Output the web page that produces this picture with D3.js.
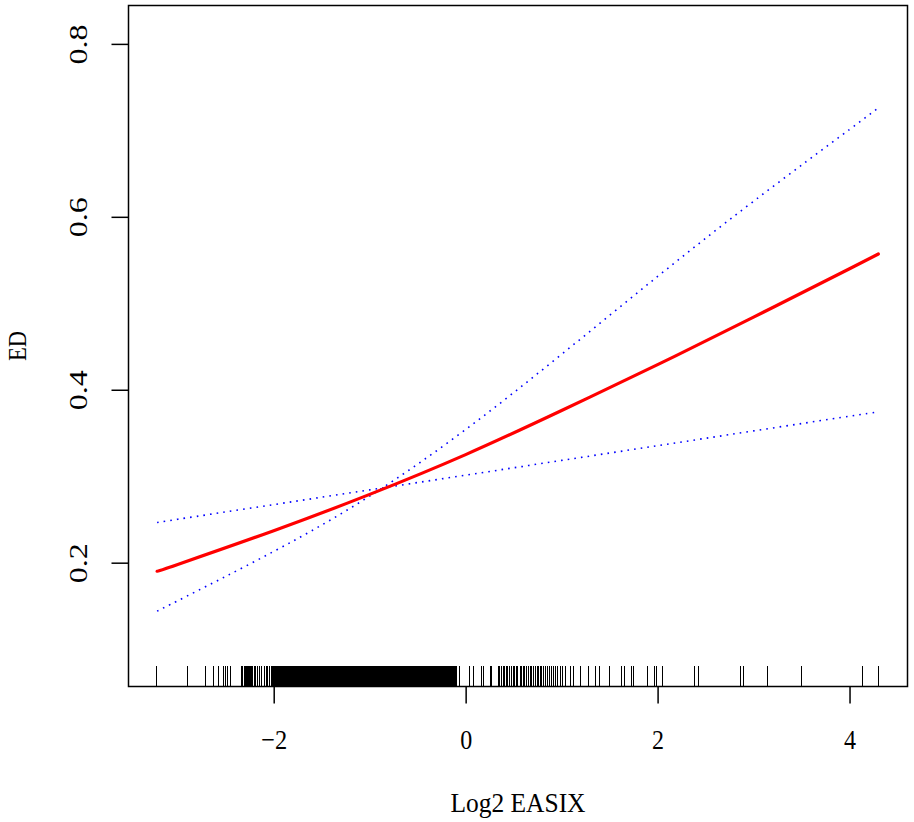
<!DOCTYPE html>
<html><head><meta charset="utf-8">
<script src="https://cdn.jsdelivr.net/npm/d3@7"></script>
<style>body{margin:0;background:#fff}svg{display:block}</style>
</head><body>
<svg id="c" width="914" height="822"></svg>
<script>
// ---- data ----
const xTicks = [-2, 0, 2, 4];
const xTickLabels = ["\u22122", "0", "2", "4"];
const yTicks = [0.2, 0.4, 0.6, 0.8];
const yTickLabels = ["0.2", "0.4", "0.6", "0.8"];
const xTitle = "Log2 EASIX";
const yTitle = "ED";
const curveX   = [-3.215, -3, -2, -1, 0, 1, 2, 3, 4, 4.30];
const fitY     = [0.190, 0.198, 0.237, 0.279, 0.325, 0.376, 0.429, 0.484, 0.540, 0.557];
const ciSteepY = [0.144, 0.156, 0.213, 0.277, 0.354, 0.441, 0.531, 0.618, 0.701, 0.726];
const ciFlatY  = [0.2465, 0.2502, 0.2672, 0.2842, 0.3012, 0.3183, 0.3353, 0.3524, 0.3694, 0.3745];
const rugX = [
-3.217,-2.894,-2.709,-2.626,-2.571,-2.522,-2.501,-2.477,-2.452,
-2.337,-2.323,-2.308,-2.30,-2.29,-2.285,-2.268,-2.26,-2.250,-2.24,-2.233,-2.22,-2.216,-2.198,-2.19,
-2.164,-2.15,-2.128,-2.10,-2.076,-2.06,-2.042,
-2.02,-2.01,-2.00,
-1.99,-1.98,-1.97,-1.96,-1.95,-1.94,-1.93,-1.92,-1.91,-1.90,
-1.89,-1.88,-1.87,-1.86,-1.85,-1.84,-1.83,-1.82,-1.81,-1.80,
-1.79,-1.78,-1.77,-1.76,-1.75,-1.74,-1.73,-1.72,-1.71,-1.70,
-1.69,-1.68,-1.67,-1.66,-1.65,-1.64,-1.63,-1.62,-1.61,-1.60,
-1.59,-1.58,-1.57,-1.56,-1.55,-1.54,-1.53,-1.52,-1.51,-1.50,
-1.49,-1.48,-1.47,-1.46,-1.45,-1.44,-1.43,-1.42,-1.41,-1.40,
-1.39,-1.38,-1.37,-1.36,-1.35,-1.34,-1.33,-1.32,-1.31,-1.30,
-1.29,-1.28,-1.27,-1.26,-1.25,-1.24,-1.23,-1.22,-1.21,-1.20,
-1.19,-1.18,-1.17,-1.16,-1.15,-1.14,-1.13,-1.12,-1.11,-1.10,
-1.09,-1.08,-1.07,-1.06,-1.05,-1.04,-1.03,-1.02,-1.01,-1.00,
-0.99,-0.98,-0.97,-0.96,-0.95,-0.94,-0.93,-0.92,-0.91,-0.90,
-0.89,-0.88,-0.87,-0.86,-0.85,-0.84,-0.83,-0.82,-0.81,-0.80,
-0.79,-0.78,-0.77,-0.76,-0.75,-0.74,-0.73,-0.72,-0.71,-0.70,
-0.69,-0.68,-0.67,-0.66,-0.65,-0.64,-0.63,-0.62,-0.61,-0.60,
-0.59,-0.58,-0.57,-0.56,-0.55,-0.54,-0.53,-0.52,-0.51,-0.50,
-0.49,-0.48,-0.47,-0.46,-0.45,-0.44,-0.43,-0.42,-0.41,-0.40,
-0.39,-0.38,-0.37,-0.36,-0.35,-0.34,-0.33,-0.32,-0.31,-0.30,
-0.29,-0.28,-0.27,-0.26,-0.25,-0.24,-0.23,-0.22,-0.21,-0.20,
-0.19,-0.18,-0.17,-0.16,-0.15,-0.14,-0.13,-0.12,-0.11,
-0.094,-0.059,0.045,0.079,0.170,0.191,0.254,0.274,0.340,0.355,0.376,0.39,0.410,0.425,0.44,
0.462,0.475,0.497,0.51,0.532,0.545,0.567,0.58,0.601,0.615,0.636,0.65,0.671,0.685,0.705,
0.723,0.73,0.744,0.76,0.775,0.79,0.806,0.827,0.848,0.869,0.890,0.911,0.932,0.952,
0.984,1.005,1.036,1.088,1.123,1.193,1.276,1.349,1.394,1.498,1.628,1.652,1.725,1.749,
1.899,1.965,1.993,2.055,2.385,2.427,2.869,2.896,3.147,3.498,4.138,4.305
];

// ---- layout ----
const box = {left: 128.5, right: 907.5, top: 5.5, bottom: 686.5};
const FONT = "'Liberation Serif', 'DejaVu Serif', serif";

const svg = d3.select("#c");
const x = d3.scaleLinear().domain([-3.513, 4.604]).range([box.left, box.right]);
const y = d3.scaleLinear().domain([0.0568, 0.8444]).range([box.bottom, box.top]);

// rug
svg.append("g").attr("shape-rendering", "crispEdges")
  .selectAll("line").data(rugX).join("line")
  .attr("x1", d => x(d)).attr("x2", d => x(d))
  .attr("y1", box.bottom).attr("y2", box.bottom - 21)
  .attr("stroke", "#000").attr("stroke-width", 1);

// curves
const line = d3.line().x((d, i) => x(curveX[i])).y(d => y(d)).curve(d3.curveNatural);
[ciSteepY, ciFlatY].forEach(s => {
  svg.append("path").attr("d", line(s)).attr("fill", "none")
    .attr("stroke", "#0000ff").attr("stroke-width", 1.6).attr("stroke-dasharray", "1.6,5.1");
});
svg.append("path").attr("d", line(fitY)).attr("fill", "none")
  .attr("stroke", "#ff0000").attr("stroke-width", 3.2).attr("stroke-linecap", "round");

// box
svg.append("rect").attr("x", box.left).attr("y", box.top)
  .attr("width", box.right - box.left).attr("height", box.bottom - box.top)
  .attr("fill", "none").attr("stroke", "#000").attr("stroke-width", 1.5);

// x axis
const xLabelW = [26, 12, 12, 12];
const gx = svg.append("g").attr("transform", `translate(0,${box.bottom})`)
  .call(d3.axisBottom(x).tickValues(xTicks).tickSize(17).tickFormat((d, i) => xTickLabels[i]));
gx.select(".domain").remove();
gx.selectAll(".tick line").attr("stroke", "#000").attr("stroke-width", 1.5);
gx.selectAll(".tick text").attr("y", 62).attr("dy", 0)
  .attr("font-family", FONT).attr("font-size", 28).attr("fill", "#000")
  .attr("textLength", (d, i) => xLabelW[i]).attr("lengthAdjust", "spacingAndGlyphs");

// y axis
const gy = svg.append("g").attr("transform", `translate(${box.left},0)`)
  .call(d3.axisLeft(y).tickValues(yTicks).tickSize(17).tickFormat((d, i) => yTickLabels[i]));
gy.select(".domain").remove();
gy.selectAll(".tick line").attr("stroke", "#000").attr("stroke-width", 1.5);
gy.selectAll(".tick text")
  .attr("transform", "rotate(-90)").attr("x", 0).attr("y", -42).attr("dy", 0)
  .attr("text-anchor", "middle")
  .attr("font-family", FONT).attr("font-size", 26).attr("fill", "#000")
  .attr("textLength", 40).attr("lengthAdjust", "spacingAndGlyphs");

// titles
svg.append("text").attr("x", (box.left + box.right) / 2).attr("y", 812)
  .attr("text-anchor", "middle").attr("font-family", FONT).attr("font-size", 27)
  .attr("textLength", 135).attr("lengthAdjust", "spacingAndGlyphs")
  .text(xTitle);
svg.append("text").attr("transform", `translate(26,${(box.top + box.bottom) / 2}) rotate(-90)`)
  .attr("text-anchor", "middle").attr("font-family", FONT).attr("font-size", 26)
  .attr("textLength", 30).attr("lengthAdjust", "spacingAndGlyphs")
  .text(yTitle);
</script>
</body></html>
